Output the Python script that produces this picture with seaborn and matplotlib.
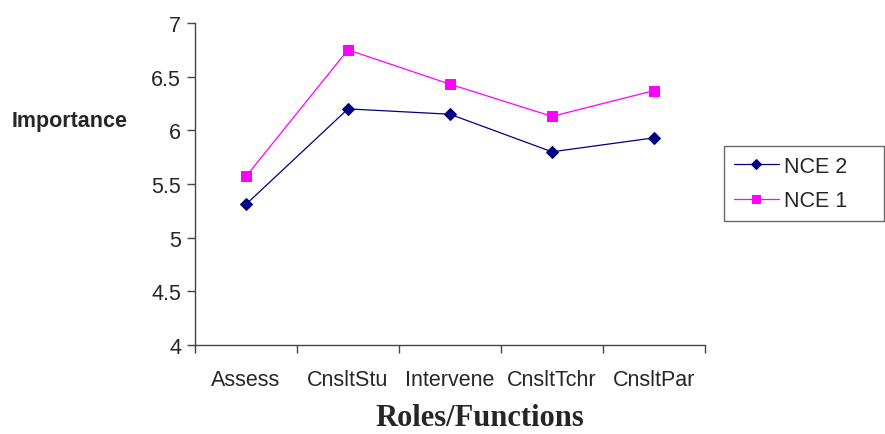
import pandas as pd
import matplotlib
matplotlib.use("Agg")
import matplotlib.pyplot as plt
from matplotlib.ticker import FixedLocator, NullFormatter
import seaborn as sns

roles = ["Assess", "CnsltStu", "Intervene", "CnsltTchr", "CnsltPar"]
nce2 = [5.31, 6.20, 6.15, 5.80, 5.93]
nce1 = [5.57, 6.75, 6.43, 6.13, 6.37]

df = pd.DataFrame({
    "role": roles * 2,
    "value": nce2 + nce1,
    "group": ["NCE 2"] * len(roles) + ["NCE 1"] * len(roles),
})

sns.set_style("white")
plt.rcParams["font.family"] = ["Liberation Sans", "DejaVu Sans"]

fig = plt.figure(figsize=(8.85, 4.35), dpi=100)
ax = fig.add_axes([0.2203, 0.2046, 0.7966 - 0.2203, 0.9448 - 0.2046])

pal = {"NCE 2": "#000080", "NCE 1": "#FF00FF"}
mk = {"NCE 2": "D", "NCE 1": "s"}
for g in ["NCE 2", "NCE 1"]:
    sub = df[df["group"] == g]
    sns.lineplot(data=sub, x="role", y="value", ax=ax, color=pal[g],
                 marker=mk[g], markersize=6.5 if g == "NCE 2" else 7.5,
                 markeredgecolor=pal[g], linewidth=0.9, label=g)

ax.set_xlim(-0.5, len(roles) - 0.5)
ax.set_ylim(4, 7)
ax.set_yticks([4, 4.5, 5, 5.5, 6, 6.5, 7])
ax.set_yticklabels(["4", "4.5", "5", "5.5", "6", "6.5", "7"])
ax.xaxis.set_major_locator(FixedLocator([i - 0.5 for i in range(len(roles) + 1)]))
ax.xaxis.set_major_formatter(NullFormatter())
ax.xaxis.set_minor_locator(FixedLocator(list(range(len(roles)))))
ax.set_xticklabels(roles, minor=True)
ax.tick_params(axis="x", which="minor", length=0, pad=17, labelsize=15.5)
ax.tick_params(axis="x", which="major", length=6, width=1, color="#444444", direction="out")
ax.tick_params(axis="y", length=6, width=1, color="#444444", direction="out", labelsize=15.5, pad=4)
ax.tick_params(bottom=True, left=True)
for side in ["top", "right"]:
    ax.spines[side].set_visible(False)
for side in ["left", "bottom"]:
    ax.spines[side].set_color("#444444")
    ax.spines[side].set_linewidth(1)
ax.set_xlabel("")
ax.set_ylabel("")

fig.text(12 / 885, 1 - 122 / 435, "Importance", fontsize=15.5, fontweight="bold",
         ha="left", va="center")
fig.text(480 / 885, 1 - 419 / 435, "Roles/Functions", fontsize=22, fontweight="bold",
         ha="center", va="center", family=["Liberation Serif", "DejaVu Serif"])

leg = ax.legend(loc="upper left",
                bbox_to_anchor=(724 / 885, 1 - 220 / 435, 160 / 885, 73 / 435),
                bbox_transform=fig.transFigure, mode="expand", frameon=True,
                fancybox=False, fontsize=15.5, handlelength=2.1, borderpad=0.45,
                labelspacing=0.62, handletextpad=0.25, borderaxespad=0,
                markerscale=0.85)
leg.get_frame().set_edgecolor("#444444")
leg.get_frame().set_linewidth(1)

fig.savefig("out.png", dpi=100)
